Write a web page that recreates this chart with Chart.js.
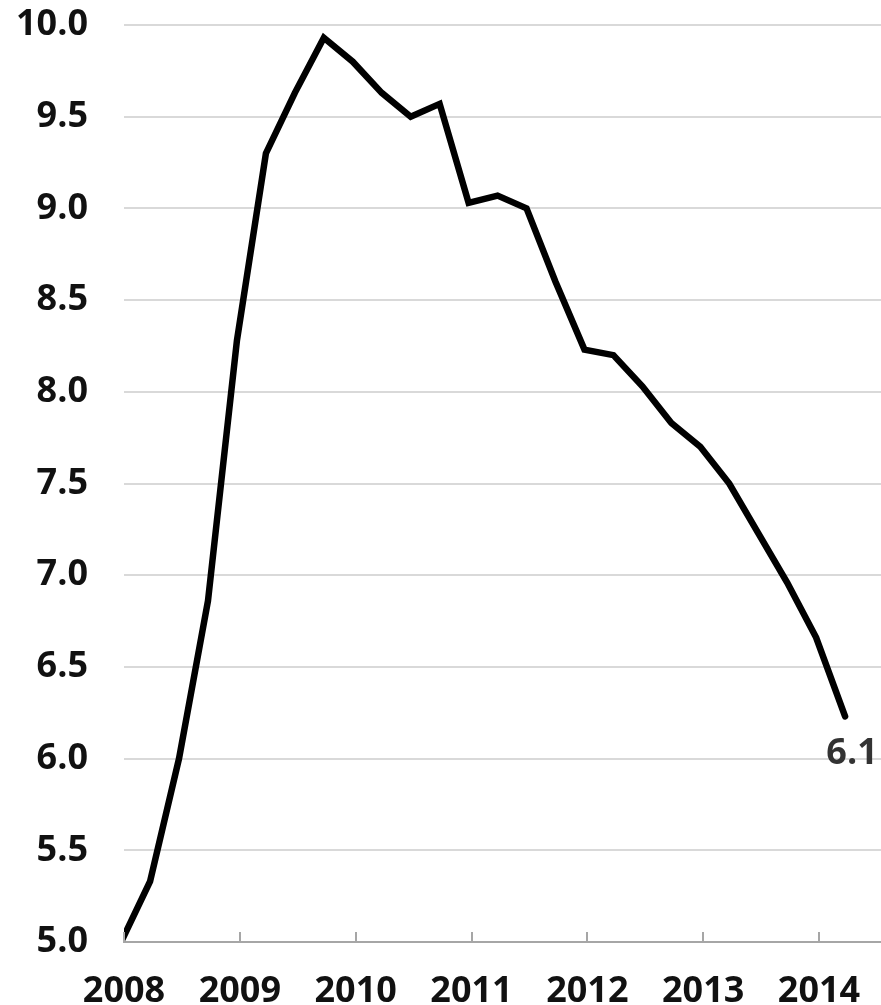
<!DOCTYPE html>
<html>
<head>
<meta charset="utf-8">
<script src="https://cdn.jsdelivr.net/npm/chart.js@4/dist/chart.umd.min.js"></script>
<style>
  html, body { margin: 0; padding: 0; background: #ffffff; }
  #wrap { width: 881px; height: 1005px; }
</style>
</head>
<body>
<div id="wrap"><canvas id="chart" width="881" height="1005"></canvas></div>
<script>
// Quarterly unemployment rate, %, 2008 Q1 – 2014 Q2
const quarterLabels = [
  '2008 Q1','2008 Q2','2008 Q3','2008 Q4',
  '2009 Q1','2009 Q2','2009 Q3','2009 Q4',
  '2010 Q1','2010 Q2','2010 Q3','2010 Q4',
  '2011 Q1','2011 Q2','2011 Q3','2011 Q4',
  '2012 Q1','2012 Q2','2012 Q3','2012 Q4',
  '2013 Q1','2013 Q2','2013 Q3','2013 Q4',
  '2014 Q1','2014 Q2'
];
const unemploymentRate = [
  5.0, 5.33, 6.0, 6.86,
  8.28, 9.30, 9.63, 9.93,
  9.80, 9.63, 9.50, 9.57,
  9.03, 9.07, 9.00, 8.60,
  8.23, 8.20, 8.03, 7.83,
  7.70, 7.50, 7.23, 6.96,
  6.66, 6.23
];
const yearTicks = [2008, 2009, 2010, 2011, 2012, 2013, 2014];
const yTickValues = [5.0, 5.5, 6.0, 6.5, 7.0, 7.5, 8.0, 8.5, 9.0, 9.5, 10.0];
// Most recent monthly reading, written next to the end of the line
const latestMonthly = '6.1';

// Each quarterly reading sits slightly before its quarter start on the year axis
const quarterShift = -0.025;
function quarterToYear(label) {
  const [yr, q] = label.split(' Q');
  return Number(yr) + (Number(q) - 1) / 4 + quarterShift;
}
const points = quarterLabels.map((lab, i) => ({ x: quarterToYear(lab), y: unemploymentRate[i] }));

const FONT = { family: '"Open Sans", "Liberation Sans", sans-serif', weight: '700', size: 36 };

// Short tick marks rising from the x-axis line at each year
const upTicks = {
  id: 'upTicks',
  afterDraw(chart) {
    const xs = chart.scales.x;
    const ctx = chart.ctx;
    ctx.save();
    ctx.strokeStyle = '#a6a6a6';
    ctx.lineWidth = 2;
    xs.ticks.forEach(t => {
      const px = Math.round(xs.getPixelForValue(t.value));
      ctx.beginPath();
      ctx.moveTo(px, xs.top);
      ctx.lineTo(px, xs.top - 10);
      ctx.stroke();
    });
    ctx.restore();
  }
};

// Value note under the last point of the line
const endLabel = {
  id: 'endLabel',
  afterDatasetsDraw(chart) {
    const meta = chart.getDatasetMeta(0);
    const last = meta.data[meta.data.length - 1];
    const ctx = chart.ctx;
    ctx.save();
    ctx.font = `${FONT.weight} ${FONT.size}px ${FONT.family}`;
    ctx.fillStyle = '#333333';
    ctx.textAlign = 'center';
    ctx.textBaseline = 'middle';
    ctx.fillText(latestMonthly, last.x + 7, last.y + 37);
    ctx.restore();
  }
};

new Chart(document.getElementById('chart'), {
  type: 'line',
  data: {
    datasets: [{
      data: points,
      borderColor: '#000000',
      borderWidth: 6.5,
      borderJoinStyle: 'miter',
      borderCapStyle: 'round',
      pointRadius: 0,
      tension: 0,
      fill: false,
      clip: { left: 0, top: false, right: false, bottom: 0 }
    }]
  },
  options: {
    responsive: false,
    animation: false,
    layout: { autoPadding: false, padding: { top: 25, right: 0, bottom: 0, left: 0 } },
    plugins: { legend: { display: false }, tooltip: { enabled: false } },
    scales: {
      x: {
        type: 'linear',
        min: 2008,
        max: 2014.535,
        afterBuildTicks(scale) { scale.ticks = yearTicks.map(v => ({ value: v })); },
        afterFit(scale) {
          scale.height = 63;
          scale.paddingLeft = 0;
          scale.paddingRight = 0;
        },
        ticks: {
          font: FONT,
          color: '#111111',
          padding: 28,
          maxRotation: 0,
          autoSkip: false,
          callback: v => String(v)
        },
        grid: { display: true, drawOnChartArea: false, drawTicks: false },
        border: { display: true, color: '#a6a6a6', width: 2 }
      },
      y: {
        min: 5,
        max: 10,
        afterBuildTicks(scale) { scale.ticks = yTickValues.map(v => ({ value: v })); },
        afterFit(scale) {
          scale.width = 124;
          scale.paddingTop = 0;
          scale.paddingBottom = 0;
        },
        ticks: {
          font: FONT,
          color: '#111111',
          padding: 36,
          callback: v => Number(v).toFixed(1)
        },
        grid: { color: '#d9d9d9', lineWidth: 2, drawTicks: false },
        border: { display: false }
      }
    }
  },
  plugins: [upTicks, endLabel]
});
</script>
</body>
</html>
